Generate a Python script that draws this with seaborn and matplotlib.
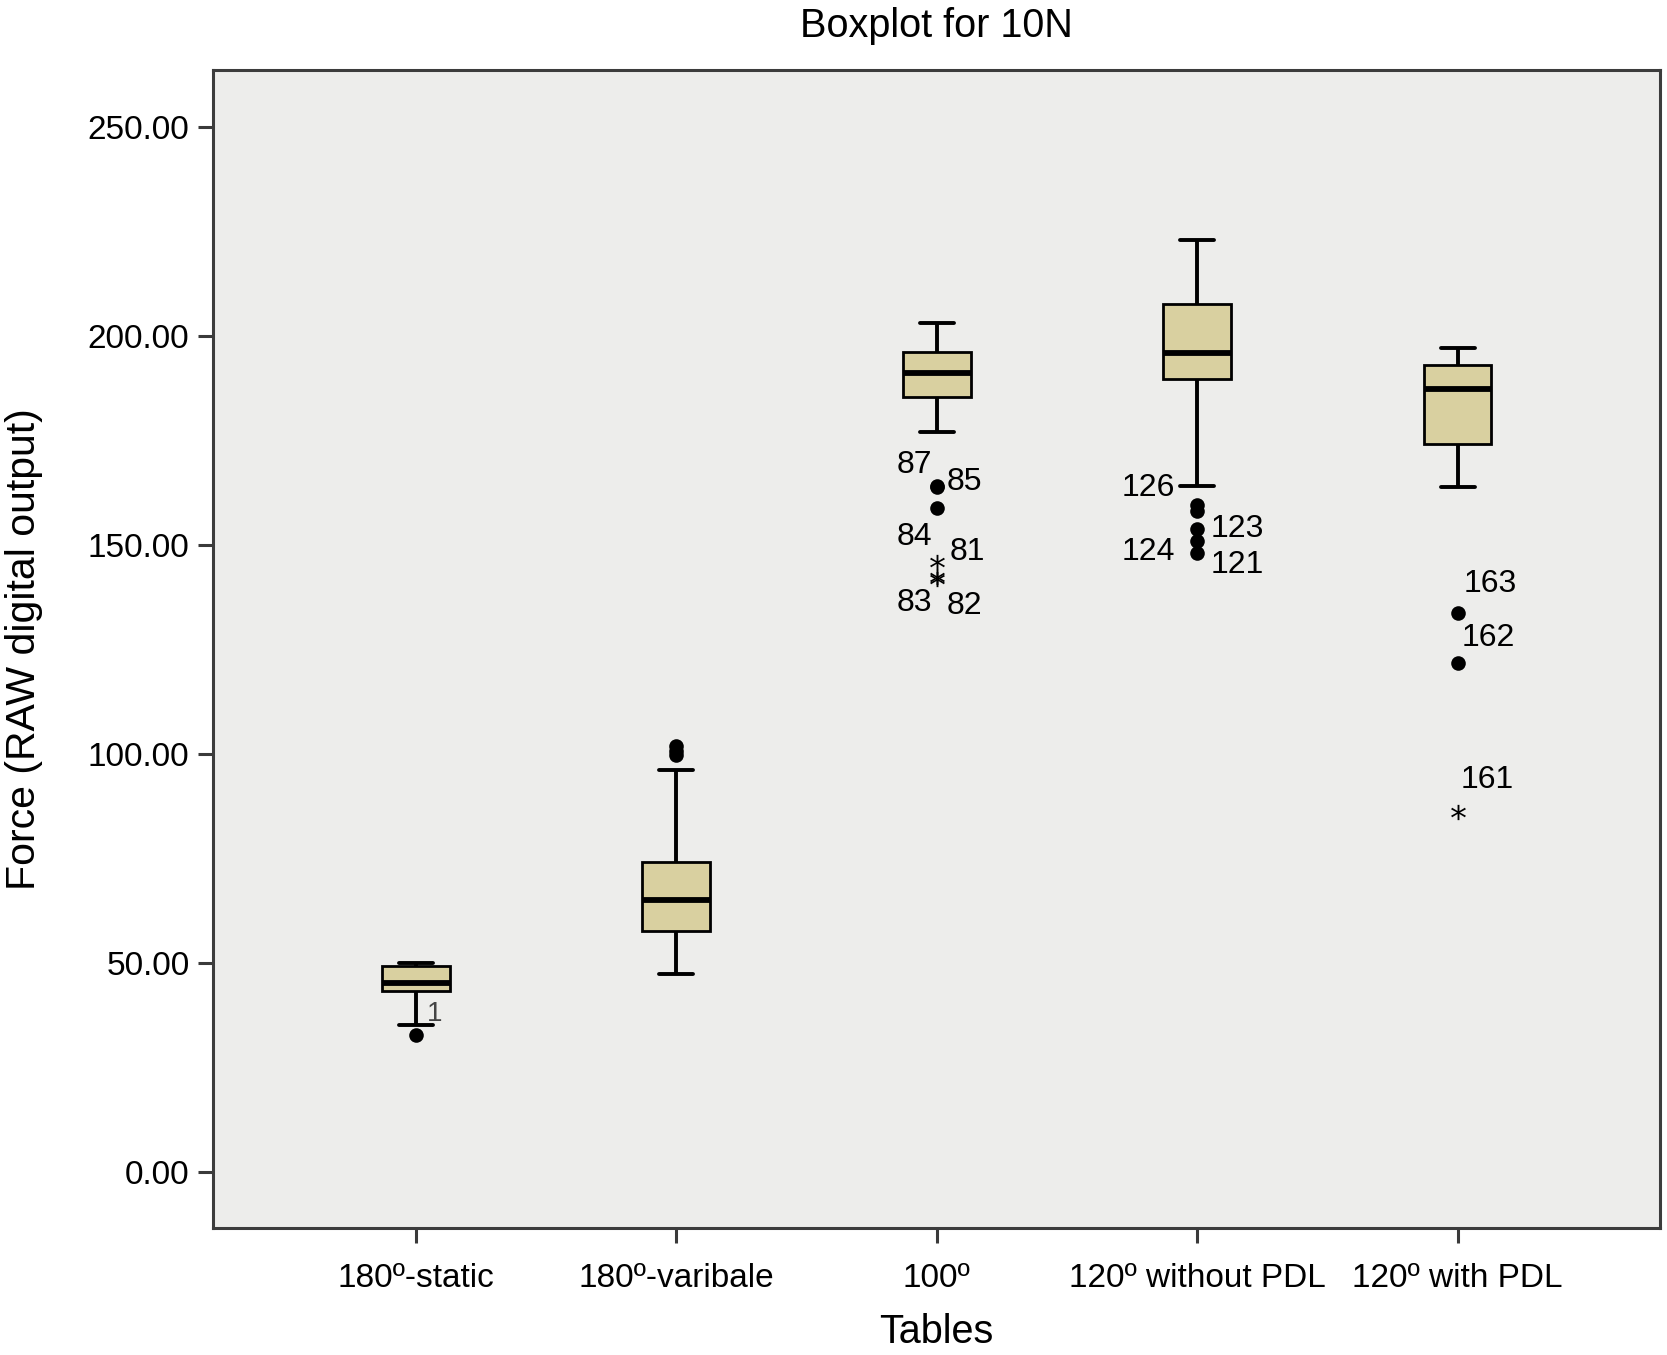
import numpy as np
import pandas as pd
import matplotlib.pyplot as plt
import seaborn as sns

# categories on the x axis
groups = ['180º-static', '180º-varibale', '100º', '120º without PDL', '120º with PDL']

# five-number summaries
whisker_low = [35.1, 47.2, 177.0, 164.1, 164.0]
q1 = [43.2, 57.5, 185.5, 189.7, 174.1]
median = [45.2, 65.0, 191.2, 196.0, 187.3]
q3 = [49.2, 74.1, 196.3, 207.7, 193.2]
whisker_high = [50.0, 96.2, 203.1, 223.1, 197.2]

# outliers (circles)
out_group = ['180º-static', '180º-varibale', '180º-varibale', '180º-varibale',
             '100º', '100º', '100º',
             '120º without PDL', '120º without PDL', '120º without PDL',
             '120º without PDL', '120º without PDL',
             '120º with PDL', '120º with PDL']
out_value = [32.7, 101.8, 100.8, 99.8,
             164.2, 163.9, 158.8,
             159.5, 158.2, 153.8, 151.0, 148.0,
             133.8, 121.7]

# extremes (asterisks)
ext_group = ['100º', '100º', '100º', '120º with PDL']
ext_value = [145.9, 142.4, 141.8, 86.0]

# case labels next to the outliers
lab_text = ['1', '87', '85', '84', '81', '83', '82', '126', '123', '124', '121', '163', '162', '161']
lab_group = ['180º-static', '100º', '100º', '100º', '100º', '100º', '100º',
             '120º without PDL', '120º without PDL', '120º without PDL', '120º without PDL',
             '120º with PDL', '120º with PDL', '120º with PDL']
lab_value = [32.7, 164.0, 164.0, 158.8, 145.9, 142.1, 142.1,
             158.8, 153.8, 151.0, 148.0, 133.8, 121.7, 86.0]
lab_dx = [8, -3.5, 7, -3.5, 9, -3.5, 7, -16, 9.5, -16, 9.5, 4, 3, 2]
lab_dy = [15.5, 15.5, 3, -21, 7.5, -18, -20, 14.5, 0, -8, -8.5, 21, 18.5, 23]
lab_ha = ['left', 'right', 'left', 'right', 'left', 'right', 'left',
          'right', 'left', 'right', 'left', 'left', 'left', 'left']

box_df = pd.DataFrame({
    'group': np.repeat(groups, 5),
    'value': np.column_stack([whisker_low, q1, median, q3, whisker_high]).ravel(),
})

sns.set_style('white')
plt.rcParams['font.family'] = ['Liberation Sans', 'DejaVu Sans']
plt.rcParams['text.color'] = 'black'
plt.rcParams['axes.labelcolor'] = 'black'

fig = plt.figure(figsize=(16.67, 13.55), dpi=100)
ax = fig.add_axes([0.1278, 0.0937, 0.868, 0.8546])
ax.set_facecolor('#EDEDEB')

sns.boxplot(data=box_df, x='group', y='value', order=groups, whis=(0, 100), width=0.26,
            color='#D9D0A0', saturation=1, linecolor='black', linewidth=2.0,
            showfliers=False, medianprops={'linewidth': 4.2},
            whiskerprops={'linewidth': 2.8}, capprops={'linewidth': 2.8}, ax=ax)

sns.stripplot(x=out_group, y=out_value, order=groups, jitter=False, color='black',
              size=10.5, linewidth=0, ax=ax)
sns.stripplot(x=ext_group, y=ext_value, order=groups, jitter=False, color='black',
              marker='$*$', size=11, linewidth=0, ax=ax)

for t, g, v, dx, dy, ha in zip(lab_text, lab_group, lab_value, lab_dx, lab_dy, lab_ha):
    ax.annotate(t, xy=(groups.index(g), v), xytext=(dx, dy), textcoords='offset points',
                ha=ha, va='center', fontsize=23 if t != '1' else 20,
                color='black' if t != '1' else '#444444')

ax.set_xlim(-0.778, 4.777)
ax.set_ylim(-13.5, 263.7)
ax.set_yticks([0, 50, 100, 150, 200, 250])
ax.set_yticklabels([f'{v:.2f}' for v in [0, 50, 100, 150, 200, 250]])
ax.set_xticks(range(len(groups)))
ax.set_xticklabels(groups)

ax.tick_params(axis='both', direction='out', length=11, width=2.2, color='#3a3a3a',
               labelcolor='black', labelsize=24, pad=6, left=True, bottom=True)
ax.tick_params(axis='x', pad=14)
for s in ax.spines.values():
    s.set_visible(True)
    s.set_color('#3c3c3c')
    s.set_linewidth(2.2)

ax.set_title('Boxplot for 10N', fontsize=28.5, pad=24, color='black')
ax.set_xlabel('Tables', fontsize=28.5, labelpad=14)
ax.set_ylabel('Force (RAW digital output)', fontsize=29.5, labelpad=32)

fig.savefig('out.png', dpi=100, facecolor='white')
